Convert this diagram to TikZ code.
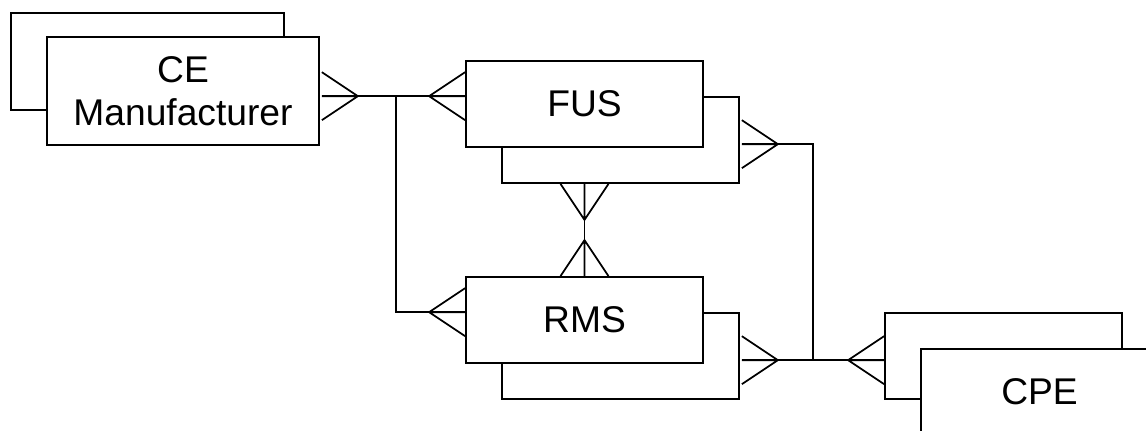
\documentclass[tikz,border=0pt]{standalone}
\usepackage{fontspec}
\setmainfont{Liberation Sans}
\usetikzlibrary{calc}

\begin{document}
\begin{tikzpicture}[x=0.75pt, y=-0.75pt, line width=1.3pt,
    entity/.style={draw, fill=white, inner sep=0pt, minimum width=177.75pt, minimum height=64.5pt, align=center, font=\fontsize{27.9}{32.3}\selectfont},
    shadow/.style={draw, fill=white, inner sep=0pt, minimum width=177.75pt, minimum height=64.5pt},
    crow/.pic={\draw (0,-24) -- (36,0) -- (0,24) (0,0) -- (36,0);}]
    \fill[white, use as bounding box] (0,0) rectangle (1146,430);
    \clip (0,0) rectangle (1146,430);

    % entities (shadow box behind)
    \node[shadow, minimum width=204.75pt, minimum height=72.75pt] (ceb) at (147.5,61.5) {};
    \node[entity, minimum width=204pt, minimum height=81pt] (ce) at (183,91) {CE\\Manufacturer};
    \node[shadow] (fusb) at (620.5,140) {};
    \node[entity] (fus) at (584.5,104) {FUS};
    \node[shadow] (rmsb) at (620.5,356) {};
    \node[entity] (rms) at (584.5,320) {RMS};
    \node[shadow] (cpeb) at (1003.5,356) {};
    \node[entity] (cpe) at (1039.5,392) {CPE};

    % attachment points
    \coordinate (ceR) at ($(ce.north east)+(2,60)$);
    \coordinate (fusL) at ($(fus.north west)+(0,36)$);
    \coordinate (rmsL) at ($(rms.north west)+(0,36)$);
    \coordinate (fusR) at ($(fusb.north east)+(2,48)$);
    \coordinate (rmsR) at ($(rmsb.north east)+(2,48)$);
    \coordinate (cpeL) at ($(cpeb.north west)+(0,48)$);
    \coordinate (fusB) at (fus.south |- fusb.south);

    % relationships
    \draw (ceR) -- (fusL);
    \draw ($(ceR)+(74,0)$) |- (rmsL);
    \draw (fusB) -- (rms.north);
    \draw (fusR) -| ($(rmsR)!0.5!(cpeL)$);
    \draw (rmsR) -- (cpeL);

    % crow's feet
    \pic at (ceR) {crow};
    \pic[rotate=180] at (fusL) {crow};
    \pic[rotate=180] at (rmsL) {crow};
    \pic at (fusR) {crow};
    \pic at (rmsR) {crow};
    \pic[rotate=180] at (cpeL) {crow};
    \pic[rotate=-90] at (fusB) {crow};
    \pic[rotate=90] at (rms.north) {crow};
\end{tikzpicture}
\end{document}
